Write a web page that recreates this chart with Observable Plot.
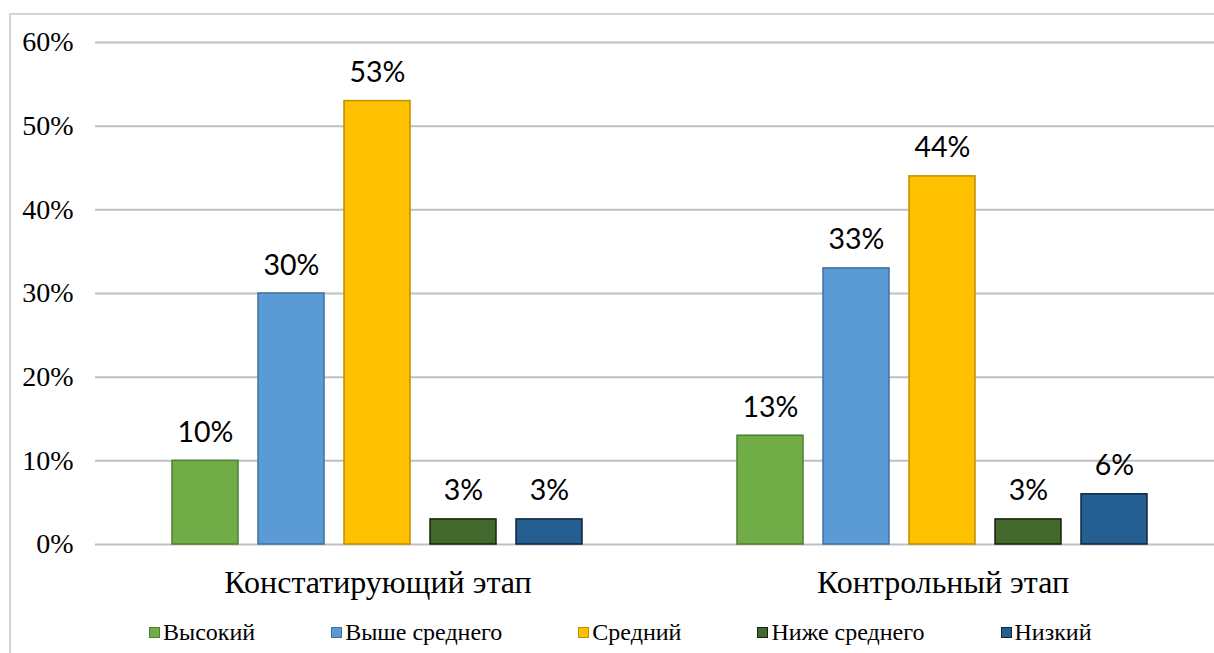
<!DOCTYPE html>
<html>
<head>
<meta charset="utf-8">
<script src="https://cdn.jsdelivr.net/npm/d3@7"></script>
<script src="https://cdn.jsdelivr.net/npm/@observablehq/plot@0.6"></script>
<style>
  html, body { margin: 0; padding: 0; background: #fff; overflow: hidden; width: 1214px; height: 653px; }
  #frame { position: absolute; left: 9px; top: 13px; width: 1300px; height: 700px; border-left: 2px solid #d4d4d4; border-top: 2px solid #d4d4d4; }
  #chart { position: absolute; left: 0; top: 0; width: 1240px; }
  #chart svg { max-width: none !important; }
  #legend { position: absolute; left: 149px; top: 619px; display: flex; gap: 76px; font-family: 'Liberation Serif'; font-size: 24px; color: #000; white-space: nowrap; }
</style>
</head>
<body>
<div id="frame"></div>
<div id="chart"></div>
<div id="legend"></div>
<script>
const groups = ["Констатирующий этап", "Контрольный этап"];
const levels = ["Высокий", "Выше среднего", "Средний", "Ниже среднего", "Низкий"];
const stage1 = [10, 30, 53, 3, 3];
const stage2 = [13, 33, 44, 3, 6];
const fills = ["#70ad47", "#5b9bd5", "#ffc000", "#43682b", "#255e91"];
const strokes = ["#507e32", "#41719c", "#c09000", "#16230e", "#0d2640"];
const yTicks = [0, 10, 20, 30, 40, 50, 60];

const data = [stage1, stage2].flatMap((vals, g) =>
  vals.map((v, i) => ({ group: groups[g], level: levels[i], value: v, fill: fills[i], stroke: strokes[i] }))
);

const chart = Plot.plot({
  width: 1240,
  height: 605,
  marginLeft: 94,
  marginRight: 15,
  marginTop: 42,
  marginBottom: 61,
  fx: { domain: groups, padding: 0, label: null, axis: null },
  x: { domain: levels, paddingInner: 0.23, paddingOuter: 0.865, axis: null },
  y: { domain: [0, 60], label: null, axis: null },
  style: { background: "transparent", overflow: "visible", maxWidth: "none" },
  marks: [
    Plot.ruleY(yTicks, { stroke: "#c0c0c0", strokeWidth: 2 }),
    Plot.text(yTicks, {
      fx: () => groups[0], y: d => d, frameAnchor: "left",
      text: d => d + "%", textAnchor: "end", dx: -22,
      fontSize: 28, fontFamily: "Liberation Serif", fill: "#000"
    }),
    Plot.barY(data, {
      fx: "group", x: "level", y: "value",
      fill: d => d.fill, stroke: d => d.stroke, strokeWidth: 1.5
    }),
    Plot.text(data, {
      fx: "group", x: "level", y: "value",
      text: d => d.value + "%",
      lineAnchor: "bottom", dy: -19,
      fontSize: 28.5, fontFamily: "Lato", fill: "#000"
    }),
    Plot.text(groups, {
      fx: d => d, frameAnchor: "bottom", text: d => d,
      lineAnchor: "top", dy: 26,
      fontSize: 32, fontFamily: "Liberation Serif", fill: "#000"
    })
  ]
});
document.getElementById("chart").appendChild(chart);

const legend = document.getElementById("legend");
levels.forEach((l, i) => {
  const item = document.createElement("div");
  item.style.display = "flex";
  item.style.alignItems = "center";
  const sw = document.createElement("span");
  sw.style.width = "9px";
  sw.style.height = "9px";
  sw.style.marginRight = "3px";
  sw.style.border = "1px solid " + strokes[i];
  sw.style.background = fills[i];
  const t = document.createElement("span");
  t.textContent = l;
  item.appendChild(sw);
  item.appendChild(t);
  legend.appendChild(item);
});
</script>
</body>
</html>
